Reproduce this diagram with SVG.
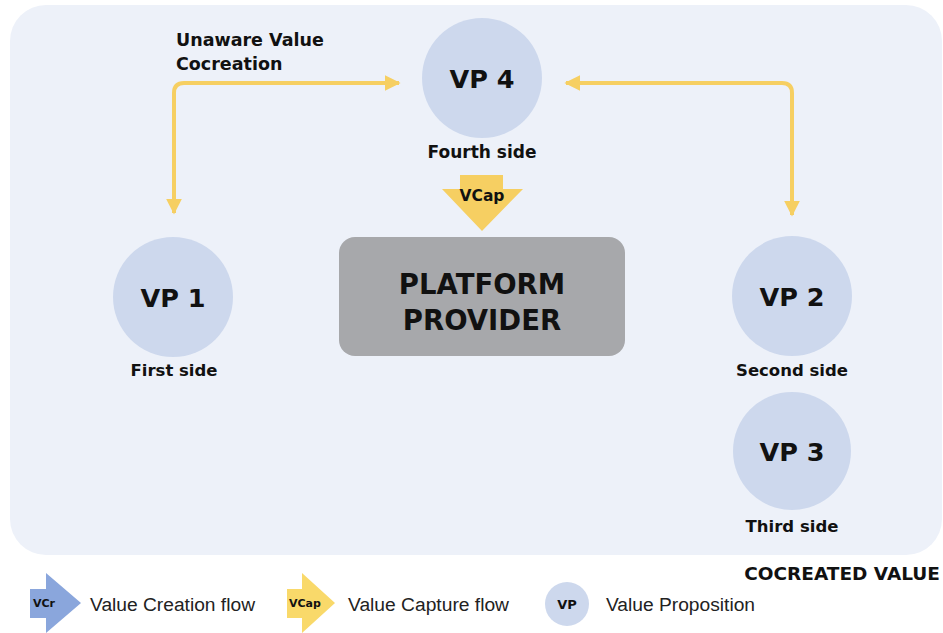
<svg xmlns="http://www.w3.org/2000/svg" width="943" height="633" viewBox="0 0 943 633">
<style>
.b{font-family:"DejaVu Sans",sans-serif;font-weight:bold;fill:#111;text-anchor:middle}
.s{text-anchor:start}
.vp{fill:#cdd8ed}
.lg{font-family:"Liberation Sans",Arial,sans-serif;font-size:18px;fill:#222}
.con{fill:none;stroke:#f6cf62;stroke-width:4;stroke-linejoin:round}
</style>
<defs>
<marker id="ah" viewBox="0 0 10 10" refX="9" refY="5" markerWidth="4" markerHeight="4" orient="auto-start-reverse" markerUnits="strokeWidth">
<path d="M0,0 L10,5 L0,10 z" fill="#f6cf62"/>
</marker>
</defs>
<rect x="0" y="0" width="943" height="633" fill="#ffffff"/>
<rect x="10" y="5" width="932" height="550" rx="36" fill="#edf1f9"/>
<g id="connectors">
<path class="con" d="M174,213 V93 Q174,83 184,83 H399" marker-start="url(#ah)" marker-end="url(#ah)"/>
<path class="con" d="M566,83 H782 Q792,83 792,93 V215" marker-start="url(#ah)" marker-end="url(#ah)"/>
<text class="b s" x="176" y="46" font-size="17.5">Unaware Value</text>
<text class="b s" x="176" y="70" font-size="17.5">Cocreation</text>
</g>
<g id="vcap">
<path d="M460,175 H503 V189 H523 L482,231 L442,189 H460 Z" fill="#f6cf62"/>
<text class="b" x="482" y="201" font-size="15.5">VCap</text>
</g>
<g id="vp4">
<circle class="vp" cx="482" cy="78" r="60"/>
<text class="b" x="482" y="88" font-size="25.5">VP 4</text>
<text class="b" x="482" y="158" font-size="17">Fourth side</text>
</g>
<g id="platform">
<rect x="339" y="237" width="286" height="119" rx="16" fill="#a7a8ab"/>
<text class="b" x="482" y="294" font-size="27.5">PLATFORM</text>
<text class="b" x="482" y="330" font-size="27.5">PROVIDER</text>
</g>
<g id="vp1">
<circle class="vp" cx="173" cy="297" r="60"/>
<text class="b" x="173" y="307" font-size="25.5">VP 1</text>
<text class="b" x="174" y="376" font-size="16.5">First side</text>
</g>
<g id="vp2">
<circle class="vp" cx="792" cy="296" r="60"/>
<text class="b" x="792" y="306" font-size="25.5">VP 2</text>
<text class="b" x="792" y="376" font-size="16.5">Second side</text>
</g>
<g id="vp3">
<circle class="vp" cx="792" cy="451" r="59"/>
<text class="b" x="792" y="461" font-size="25.5">VP 3</text>
<text class="b" x="792" y="532" font-size="16.5">Third side</text>
</g>
<g id="legend">
<text class="b" x="940" y="580" font-size="18.5" style="text-anchor:end">COCREATED VALUE</text>
<path d="M30,589 H46 V573 L81,603 L46,633 V618 H30 Z" fill="#8aa6dc"/>
<text class="b s" x="33" y="607" font-size="11">VCr</text>
<text class="lg" x="90" y="611" textLength="165" lengthAdjust="spacingAndGlyphs">Value Creation flow</text>
<path d="M287,589 H302 V573 L335,603 L302,633 V618 H287 Z" fill="#f9d96a"/>
<text class="b s" x="289" y="607" font-size="11">VCap</text>
<text class="lg" x="348" y="611" textLength="161" lengthAdjust="spacingAndGlyphs">Value Capture flow</text>
<circle class="vp" cx="567" cy="604" r="22"/>
<text class="b" x="567" y="609" font-size="13">VP</text>
<text class="lg" x="606" y="611" textLength="149" lengthAdjust="spacingAndGlyphs">Value Proposition</text>
</g>
</svg>
